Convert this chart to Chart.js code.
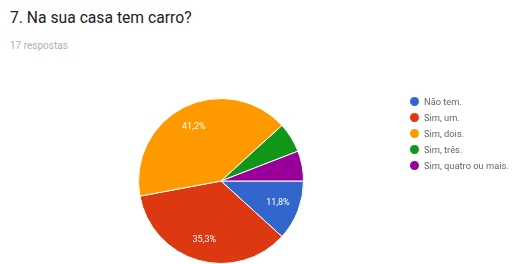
<!DOCTYPE html>
<html lang="pt">
<head>
    <meta charset="UTF-8">
    <title>Na sua casa tem carro?</title>
    <script src="https://cdn.jsdelivr.net/npm/chart.js"></script>
    <style>
        body { margin: 0; width: 526px; height: 264px; overflow: hidden; background: #fff; font-family: Roboto, Arial, sans-serif; position: relative; }
        #title { position: absolute; left: 10px; top: 8px; font-size: 15.7px; color: #222; }
        #sub { position: absolute; left: 10px; top: 40px; font-size: 10px; color: #b0b0b0; }
        #chartWrap { position: absolute; left: 0; top: 0; width: 526px; height: 300px; }
        #legend { position: absolute; left: 410px; top: 94px; font-size: 9.3px; color: #666; }
        #legend div { height: 16px; line-height: 15px; white-space: nowrap; }
        #legend span.dot { display: inline-block; width: 9px; height: 9px; border-radius: 50%; margin-right: 5px; vertical-align: -1px; }
    </style>
</head>
<body>
    <div id="title">7. Na sua casa tem carro?</div>
    <div id="sub">17 respostas</div>
    <div id="chartWrap"><canvas id="myChart" width="526" height="300"></canvas></div>
    <div id="legend"></div>

    <script>
        // data (17 respostas)
        const labels = ['Não tem.', 'Sim, um.', 'Sim, dois.', 'Sim, três.', 'Sim, quatro ou mais.'];
        const counts = [2, 6, 7, 1, 1];
        const colors = ['#3366cc', '#dc3912', '#ff9900', '#109618', '#990099'];

        const total = counts.reduce((a, b) => a + b, 0);

        // percentage labels inside the bigger slices
        const pctLabels = {
            id: 'pctLabels',
            afterDatasetsDraw(chart) {
                const ctx = chart.ctx;
                const meta = chart.getDatasetMeta(0);
                ctx.save();
                ctx.fillStyle = '#fff';
                ctx.font = '9px Roboto, Arial, sans-serif';
                ctx.textAlign = 'center';
                ctx.textBaseline = 'middle';
                meta.data.forEach((arc, i) => {
                    const pct = counts[i] / total * 100;
                    if (pct < 8) return;
                    const mid = (arc.startAngle + arc.endAngle) / 2;
                    const r = arc.outerRadius * 0.74;
                    ctx.fillText(pct.toFixed(1).replace('.', ',') + '%', arc.x + Math.cos(mid) * r, arc.y + Math.sin(mid) * r);
                });
                ctx.restore();
            }
        };

        const ctx = document.getElementById('myChart').getContext('2d');
        new Chart(ctx, {
            type: 'pie',
            data: {
                labels: labels,
                datasets: [{
                    data: counts,
                    backgroundColor: colors,
                    borderColor: '#fff',
                    borderWidth: 1
                }]
            },
            options: {
                responsive: false,
                animation: false,
                rotation: 90,
                layout: { padding: { left: 138, right: 222, top: 97, bottom: 35 } },
                plugins: {
                    legend: { display: false },
                    tooltip: { enabled: false }
                }
            },
            plugins: [pctLabels]
        });

        // legend on the right
        const legend = document.getElementById('legend');
        labels.forEach((l, i) => {
            const row = document.createElement('div');
            row.innerHTML = '<span class="dot" style="background:' + colors[i] + '"></span>' + l;
            legend.appendChild(row);
        });
    </script>
</body>
</html>
